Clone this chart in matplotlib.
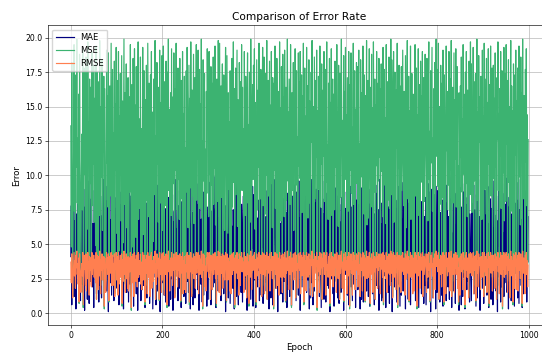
import numpy as np
import matplotlib
matplotlib.use('Agg')
import matplotlib.pyplot as plt

# error values per epoch
mae = [
    4.1,7.8,0.6,9.3,2.5,5.9,8.4,1.2,6.7,3.3,9.8,0.3,5.1,7.2,2.9,8.8,4.6,1.7,6.2,9.5,3.8,0.9,7.5,5.4,2.1,
    8.1,6.4,1.5,9.0,3.6,0.2,7.7,4.9,2.7,8.6,5.7,1.0,9.6,6.9,3.1,0.7,8.3,4.4,2.3,7.0,9.9,5.2,1.9,6.5,3.9,
    0.4,8.9,5.6,2.8,7.4,9.1,1.4,4.2,6.0,3.4,8.0,0.8,5.8,9.4,2.0,7.1,4.7,1.1,6.6,8.5,3.0,9.7,5.0,0.5,7.9,
    2.6,6.3,9.2,1.6,4.8,8.2,3.5,0.1,7.3,5.5,9.0,2.2,6.8,4.0,1.3,8.7,5.3,3.7,9.5,0.9,6.1,2.4,7.6,4.5,8.4,
    5.9,1.8,7.0,3.2,9.6,0.6,6.4,8.8,2.9,4.3,7.9,1.0,5.6,9.3,3.8,0.3,8.1,6.0,2.5,7.4,4.9,9.8,1.5,6.9,3.4,
    7.7,0.8,4.6,9.1,2.1,5.2,8.5,1.2,6.3,3.0,9.9,4.1,0.5,7.2,5.8,2.7,8.9,3.6,1.4,6.7,9.4,0.2,5.0,7.8,2.3,
    9.2,3.9,6.1,0.9,8.3,4.7,1.7,7.1,5.4,2.0,9.7,6.6,0.4,3.3,8.0,5.9,1.1,7.5,4.2,9.0,2.8,6.8,0.7,8.6,3.5,
    1.9,6.5,8.7,4.4,0.3,7.3,2.6,9.5,5.1,3.1,7.9,0.6,6.2,9.3,1.6,4.8,8.2,2.4,5.7,7.0,0.1,9.6,3.7,6.0,4.5,
    8.8,2.2,5.5,9.9,1.3,6.9,3.8,0.8,7.6,4.0,9.1,2.9,5.3,8.4,0.5,6.4,3.2,9.4,1.0,7.2,5.0,2.5,8.6,0.2,6.6,
    3.4,7.4,1.4,5.8,9.7,2.7,6.1,4.3,8.9,0.9,3.6,7.8,5.2,1.8,9.2,4.6,0.4,6.7,8.1,2.0,5.9,9.0,1.2,7.0,3.9,
    6.3,0.7,9.6,4.9,2.3,8.0,5.6,1.5,7.5,3.0,9.8,0.3,6.5,4.1,8.5,2.6,7.3,0.6,5.4,9.3,3.3,1.1,8.7,6.0,2.8,
    9.4,4.4,1.7,7.9,5.1,0.2,8.2,3.5,6.8,2.1,9.0,5.7,0.8,7.1,4.7,1.3,8.8,3.1,6.2,9.7,2.4,5.5,0.5,7.7,4.0,
    1.0,8.3,6.6,2.9,9.5,4.2,0.6,7.4,5.0,3.7,8.6,1.9,6.4,9.9,2.2,4.8,7.6,0.4,5.9,8.1,3.4,9.2,1.6,6.9,2.5,
    7.2,3.8,9.1,0.9,5.3,8.4,2.0,6.1,4.5,1.4,9.6,3.2,7.8,0.1,6.7,4.3,8.9,2.7,5.6,1.1,9.3,7.0,3.6,0.7,8.0,
    4.6,9.8,2.3,6.3,1.8,7.5,5.2,0.3,8.7,3.9,6.0,9.4,1.2,4.9,7.3,2.8,0.6,8.3,5.8,3.0,9.0,6.5,1.5,7.9,4.1,
    0.8,6.8,8.5,3.3,9.7,1.7,5.5,7.7,2.6,4.4,0.2,8.1,6.2,9.5,2.1,5.0,7.1,3.7,1.0,8.8,4.7,6.6,9.2,0.5,3.5,
    8.6,2.4,5.7,9.3,0.4,7.4,4.0,1.9,6.9,3.1,8.2,5.4,0.9,9.9,2.9,6.4,1.3,7.6,4.8,9.1,0.7,5.1,8.4,2.2,6.1,
    3.0,7.0,1.6,4.5,8.9,6.3,2.7,9.6,0.3,5.9,3.8,7.8,1.1,6.0,9.4,4.2,0.6,8.0,2.5,5.3,7.2,9.7,3.4,1.8,6.7,
    9.0,5.6,0.1,7.5,3.6,8.6,2.0,4.9,6.5,1.4,9.8,3.3,5.8,0.8,8.3,6.8,2.3,4.4,9.5,1.0,7.3,5.0,0.4,8.7,3.9,
    2.1,8.1,6.4,1.2,9.2,4.6,7.9,0.5,5.5,3.2,8.5,1.7,6.6,9.3,2.6,4.1,7.7,0.9,5.2,8.8,3.7,6.2,1.3,9.6,4.3,
    6.9,0.2,3.5,8.4,5.1,1.9,9.9,7.1,2.8,4.7,0.7,8.2,6.0,3.0,9.1,1.5,5.7,7.4,2.4,9.4,4.0,0.3,6.3,8.6,1.1,
    5.4,9.7,2.2,6.7,0.6,7.8,4.5,1.6,8.0,3.6,5.9,9.0,0.9,4.8,7.0,2.7,8.9,6.1,1.2,3.3,9.5,5.3,0.4,7.6,2.9,
    8.3,4.2,7.2,1.0,9.6,3.1,6.5,0.8,5.0,8.7,2.0,6.8,9.3,1.8,4.4,7.5,0.1,5.6,3.8,9.8,2.5,6.4,8.1,1.4,4.9,
    0.5,6.0,9.1,3.4,7.3,2.3,5.2,8.5,1.1,4.6,9.7,0.7,7.9,3.9,6.6,1.5,8.4,5.5,2.6,9.0,4.3,0.2,6.9,8.8,3.0,
    7.6,2.8,4.0,9.4,1.3,5.8,8.0,0.6,6.3,3.5,9.2,5.1,1.9,7.7,4.5,0.9,8.6,2.1,6.1,9.9,3.2,7.1,0.4,5.4,8.2,
    3.6,9.5,1.7,6.4,8.3,2.5,4.7,0.3,7.4,5.9,1.0,9.1,3.7,6.8,0.8,8.9,4.1,2.2,7.8,5.0,9.6,1.6,6.2,3.1,8.5,
    1.2,5.3,7.9,0.5,9.0,4.4,6.7,2.9,8.1,1.4,5.6,9.8,3.3,0.6,7.2,4.8,9.3,2.0,6.0,8.7,1.8,4.2,7.5,0.2,5.7,
    9.7,3.8,6.5,2.4,0.9,8.0,5.2,1.1,7.0,4.0,9.4,2.7,6.9,0.4,8.4,3.4,5.9,9.1,1.5,7.7,4.6,0.7,8.8,6.1,2.3,
    4.9,8.6,0.1,5.5,7.3,3.0,9.9,1.9,6.6,2.6,8.2,4.3,0.8,7.6,5.1,9.2,2.1,6.3,3.6,0.5,8.9,5.8,1.3,9.5,3.9,
    6.8,1.6,9.0,4.5,2.0,7.1,0.3,8.5,5.4,3.2,9.7,6.2,1.0,4.7,8.0,2.8,7.4,0.6,5.0,9.3,3.5,6.0,1.7,8.3,4.1,
    2.7,7.9,5.3,0.9,9.6,3.7,6.4,1.2,8.7,4.4,0.4,7.2,5.7,9.1,2.3,6.9,1.4,8.1,3.1,5.6,9.8,0.7,7.0,4.8,2.0,
    8.4,0.6,3.9,7.5,5.0,1.8,9.4,6.1,2.5,8.8,4.2,0.1,6.7,3.4,9.0,5.2,1.1,7.8,4.6,2.9,8.6,6.5,0.3,9.2,5.5,
    1.5,6.3,8.9,2.2,4.9,9.5,0.8,7.3,3.8,5.9,1.3,8.2,6.0,0.5,9.7,3.6,7.1,2.4,5.4,8.0,0.9,4.3,9.3,6.6,1.9,
    7.0,4.7,1.0,9.9,6.2,2.7,8.3,0.4,5.8,3.3,7.6,9.0,1.6,4.1,8.7,0.7,6.4,3.0,9.6,5.1,2.1,7.4,4.5,0.2,8.5,
    5.6,9.1,3.5,0.6,7.7,4.0,1.2,8.8,6.9,2.6,9.4,0.3,5.3,7.9,3.9,1.7,8.4,6.1,2.3,9.8,4.6,0.8,7.2,5.0,3.2,
    0.9,8.0,6.6,2.9,5.2,9.3,1.4,4.8,7.5,3.7,0.5,8.6,6.3,1.1,9.0,4.4,2.5,7.0,5.7,0.2,9.7,3.4,6.8,8.2,1.8,
    4.3,7.3,0.7,9.5,3.1,6.0,8.9,2.0,5.5,1.3,7.8,9.2,4.0,0.4,6.5,2.8,8.3,5.9,1.0,7.6,3.6,9.9,0.6,6.2,4.7,
    9.6,2.3,5.1,7.1,1.6,8.5,3.8,0.1,6.7,4.9,9.0,2.6,7.4,5.4,0.8,8.1,1.9,6.0,9.4,3.3,5.8,1.2,8.7,2.2,7.9,
    3.0,6.4,9.8,1.5,4.2,7.7,0.3,8.4,5.0,2.4,9.3,6.9,0.9,3.5,7.2,5.3,1.7,9.1,4.5,0.5,8.0,6.6,2.9,5.6,9.5,
    6.1,1.1,8.2,4.6,0.7,7.5,3.2,9.7,5.9,2.0,6.8,0.4,8.6,3.9,1.4,9.0,5.5,7.3,2.7,4.1,8.9,0.8,6.3,3.7,7.0,
]

mse = [
    13.6,4.8,18.2,9.1,1.2,6.3,11.9,19.5,7.4,14.8,3.2,17.3,10.6,19.9,8.0,12.7,4.4,15.9,0.7,18.8,11.2,6.9,2.3,9.7,13.0,
    7.5,19.2,0.4,5.6,17.8,10.1,14.5,4.2,18.6,2.6,15.3,6.1,19.7,11.5,13.9,1.7,17.0,9.4,16.4,4.6,3.6,19.0,7.8,14.2,10.8,
    18.0,6.6,15.6,11.0,4.9,19.4,1.0,13.3,17.5,5.4,2.9,16.8,7.1,19.8,12.9,2.0,15.0,9.9,18.4,6.0,14.0,11.7,17.2,0.3,16.3,
    9.0,2.3,4.7,19.1,10.9,15.8,7.7,18.9,0.8,5.3,16.5,8.5,14.7,19.6,3.9,11.4,17.7,4.1,13.1,9.6,18.3,1.4,15.2,10.4,19.3,
    5.8,16.9,12.6,1.7,19.0,4.5,14.3,10.0,17.4,6.7,13.5,18.7,0.5,15.4,5.1,11.8,19.9,7.9,16.0,2.1,12.8,18.1,6.2,14.9,3.2,
    17.1,2.6,4.0,15.7,8.8,19.5,12.0,0.2,16.6,11.1,4.8,18.5,13.7,1.4,19.2,9.5,15.1,5.5,17.9,12.3,3.6,14.4,19.7,6.8,11.6,
    14.1,7.6,18.6,4.4,13.4,2.9,9.2,19.3,5.7,12.5,17.6,10.7,0.6,15.5,8.2,18.0,11.3,2.0,19.6,13.2,7.0,16.7,9.9,1.4,17.3,
    10.2,19.0,3.2,14.6,11.8,5.2,17.0,8.6,15.9,19.8,1.0,12.9,4.6,18.2,10.8,14.0,6.6,16.4,0.9,19.1,12.4,8.0,15.3,2.3,18.7,
    6.0,15.1,19.4,9.0,1.7,16.8,11.5,7.8,18.3,13.6,0.4,17.5,10.0,19.9,8.9,14.8,2.6,12.2,16.0,7.1,19.2,11.0,3.9,15.7,9.4,
    18.9,12.6,1.2,16.3,10.4,19.6,7.5,13.0,3.6,17.8,9.7,15.0,6.8,18.5,11.4,0.8,16.9,13.9,8.3,19.0,2.0,14.5,10.9,17.2,2.9,
    12.0,2.3,17.6,8.8,19.3,14.2,6.2,11.7,18.0,0.6,15.6,9.1,19.7,12.7,1.4,16.2,8.5,13.3,18.8,6.5,10.3,17.1,3.2,14.9,19.5,
    8.2,16.6,11.2,19.1,2.0,13.8,17.7,7.6,15.2,10.6,19.9,6.9,12.5,0.3,18.4,9.6,14.1,17.4,3.6,11.9,2.6,16.1,8.7,19.2,13.5,
    15.8,7.0,19.0,10.1,13.1,1.0,17.9,9.3,16.7,2.9,12.3,18.6,7.9,15.4,10.5,19.4,6.4,14.6,0.5,17.0,11.6,8.1,19.8,12.8,2.3,
    19.6,11.1,1.7,16.5,8.4,14.0,18.1,3.2,13.2,17.3,9.8,6.0,15.9,19.3,10.7,0.8,18.7,12.1,5.8,16.0,9.0,13.9,2.6,17.6,11.3,
    2.0,14.7,18.5,7.7,12.4,19.7,9.5,16.3,0.4,11.0,17.8,8.6,14.3,19.1,6.3,15.5,10.2,1.7,18.2,13.6,3.9,16.8,11.8,19.5,8.9,
    16.4,9.2,13.4,2.3,19.0,10.8,7.1,17.2,12.6,1.2,15.0,18.9,8.0,13.7,0.5,17.5,11.4,6.6,19.9,14.4,2.9,12.2,16.6,9.7,18.0,
    11.9,19.2,6.1,15.3,9.9,0.6,18.4,13.0,7.5,16.2,10.6,19.6,3.6,14.8,8.3,17.7,12.0,1.4,15.6,19.3,7.8,11.2,18.6,2.0,13.3,
    7.2,17.4,10.0,19.8,1.0,14.2,16.9,8.5,12.9,18.3,2.6,15.1,9.4,19.0,11.5,6.2,17.1,13.8,0.3,16.7,10.4,19.4,7.6,14.5,3.2,
    18.5,13.1,3.9,16.1,11.7,1.7,19.7,9.1,14.9,6.7,17.9,12.3,2.3,18.8,10.9,15.7,7.0,19.1,13.4,0.8,16.4,8.2,12.7,19.9,9.6,
    14.6,2.9,17.0,12.5,7.9,19.5,10.2,0.4,16.0,13.5,8.9,18.2,6.0,15.2,11.1,19.2,1.2,14.0,17.6,9.3,12.8,3.2,18.9,10.7,16.8,
    9.8,19.0,2.0,13.2,17.3,7.3,15.8,11.6,19.6,0.6,12.0,17.8,8.6,14.3,2.6,19.3,10.1,16.5,6.9,13.7,18.4,8.0,15.4,1.8,11.0,
    17.5,12.4,19.8,1.4,10.5,15.0,3.6,18.6,13.0,8.3,16.9,11.3,19.1,0.2,14.7,9.0,17.2,12.6,2.3,19.4,7.7,15.6,10.8,18.1,1.0,
    2.9,16.2,11.4,19.0,8.1,13.6,17.7,1.7,14.1,19.7,9.5,12.2,6.8,16.7,10.3,18.5,0.5,15.3,11.9,19.2,7.1,13.4,17.0,3.6,15.9,
    12.9,7.5,18.3,10.6,16.3,2.3,19.5,9.2,14.6,6.3,18.0,12.1,1.0,17.4,8.4,15.7,19.9,11.7,3.2,14.0,10.0,18.7,0.8,16.1,13.1,
    19.3,9.7,14.4,2.0,17.1,11.8,7.4,19.0,12.7,0.3,16.6,10.4,18.9,8.7,13.5,1.7,15.2,19.6,7.9,11.2,17.6,2.9,14.8,9.4,18.2,
    10.9,17.9,3.6,15.5,19.1,8.0,12.3,1.4,18.4,14.3,9.9,16.0,2.6,19.4,11.5,7.2,17.3,13.0,0.8,15.8,10.1,19.8,6.4,12.6,16.9,
    6.9,13.9,19.2,9.1,0.5,16.4,11.0,18.8,7.7,14.9,2.3,19.7,12.4,8.8,17.0,1.0,15.1,10.7,19.0,13.3,3.2,16.7,9.6,18.5,11.3,
    16.3,2.0,12.8,18.1,10.3,15.4,7.0,19.3,0.6,13.7,17.7,9.3,14.2,6.5,19.5,11.9,2.3,16.8,8.2,12.5,18.6,7.6,15.0,3.9,19.9,
    8.6,18.4,15.7,1.2,11.4,19.0,6.6,14.5,17.5,9.0,2.9,16.2,12.0,19.6,0.4,13.8,10.5,18.0,3.6,16.5,11.1,2.3,17.9,8.9,14.1,
    19.1,10.8,7.8,16.1,13.4,1.7,18.7,12.2,6.2,15.6,19.8,8.3,11.7,17.2,0.8,14.7,9.8,19.4,6.8,13.1,17.4,10.2,2.0,15.9,12.9,
    2.6,15.3,19.5,8.5,12.6,17.8,0.3,14.4,10.6,19.2,7.1,16.6,13.6,3.2,18.3,9.5,15.8,11.6,19.0,1.4,14.6,17.1,8.1,12.1,18.8,
    14.0,8.7,2.3,18.5,11.0,6.7,16.9,19.7,9.7,13.2,0.8,17.6,10.9,15.4,19.3,7.4,12.7,1.2,16.3,10.0,18.2,2.9,14.9,19.9,11.4,
    17.7,12.0,9.2,19.6,1.0,15.0,11.5,7.9,18.0,13.9,3.6,16.7,8.4,19.1,12.3,0.6,17.3,14.2,9.9,2.0,19.4,11.8,16.1,7.5,13.6,
    9.3,19.0,14.7,2.6,17.0,10.4,19.8,1.4,13.0,16.4,8.0,12.9,18.9,2.3,15.5,11.2,19.2,7.7,14.8,17.9,3.2,10.7,0.6,16.0,12.5,
    1.7,16.5,11.3,18.6,8.8,14.1,2.9,19.5,10.1,15.9,12.8,0.4,17.5,9.4,19.0,13.8,7.0,16.2,11.6,1.2,18.3,14.5,8.6,19.7,10.3,
    18.1,7.3,15.2,12.2,19.3,2.0,16.8,9.6,13.5,17.4,0.8,11.0,19.9,8.2,14.6,3.6,18.7,12.4,15.7,9.1,2.9,17.2,13.2,6.8,19.1,
    11.8,14.3,1.4,19.6,9.0,17.0,12.5,7.2,18.5,2.3,15.3,10.8,19.2,13.1,0.5,16.6,11.1,19.4,8.5,14.0,17.8,2.6,12.0,18.0,9.8,
    15.6,3.2,18.9,10.6,13.7,1.0,17.1,12.6,19.7,8.9,14.5,2.0,16.3,11.4,19.0,7.6,13.3,17.6,0.3,15.1,10.2,19.3,6.7,14.2,17.4,
    8.1,19.5,12.3,16.9,2.3,11.9,18.4,9.5,15.0,1.2,13.9,19.8,7.4,16.5,10.5,14.7,0.6,18.1,12.7,3.1,17.3,11.5,19.1,2.9,15.4,
    13.0,17.8,2.6,11.7,19.4,9.9,14.9,6.4,18.6,12.1,16.0,0.5,19.9,10.9,8.3,15.8,13.4,2.0,17.7,11.0,19.2,7.8,14.4,3.6,12.6,
]

rmse = [
    3.7,2.2,4.3,3.0,1.1,2.5,3.4,4.4,2.7,3.8,1.8,4.2,3.3,4.5,2.8,3.6,2.1,4.0,0.8,4.3,3.3,2.6,1.5,3.1,3.6,
    2.7,4.4,0.6,2.4,4.2,3.2,3.8,2.0,4.3,1.6,3.9,2.5,4.4,3.4,3.7,1.3,4.1,3.1,4.0,2.1,1.9,4.4,2.8,3.8,3.3,
    4.2,2.6,3.9,3.3,2.2,4.4,1.0,3.6,4.2,2.3,1.7,4.1,2.7,4.5,3.6,1.4,3.9,3.1,4.3,2.4,3.7,3.4,4.1,0.5,4.0,
    3.0,1.5,2.2,4.4,3.3,4.0,2.8,4.3,0.9,2.3,4.1,2.9,3.8,4.4,2.0,3.4,4.2,2.0,3.6,3.1,4.3,1.2,3.9,3.2,4.4,
    2.4,4.1,3.5,1.3,4.4,2.1,3.8,3.2,4.2,2.6,3.7,4.3,0.7,3.9,2.3,3.4,4.5,2.8,4.0,1.5,3.6,4.3,2.5,3.9,1.8,
    4.1,1.6,2.0,4.0,3.0,4.4,3.5,0.4,4.1,3.3,2.2,4.3,3.7,1.2,4.4,3.1,3.9,2.3,4.2,3.5,1.9,3.8,4.4,2.6,3.4,
    3.8,2.8,4.3,2.1,3.7,1.7,3.0,4.4,2.4,3.5,4.2,3.3,0.8,3.9,2.9,4.2,3.4,1.4,4.4,3.6,2.6,4.1,3.1,1.2,4.2,
    3.2,4.4,1.8,3.8,3.4,2.3,4.1,2.9,4.0,4.5,1.0,3.6,2.1,4.3,3.3,3.7,2.6,4.0,1.0,4.4,3.5,2.8,3.9,1.5,4.3,
    2.4,3.9,4.4,3.0,1.3,4.1,3.4,2.8,4.3,3.7,0.6,4.2,3.2,4.5,3.0,3.8,1.6,3.5,4.0,2.7,4.4,3.3,2.0,4.0,3.1,
    4.3,3.5,1.1,4.0,3.2,4.4,2.7,3.6,1.9,4.2,3.1,3.9,2.6,4.3,3.4,0.9,4.1,3.7,2.9,4.4,1.4,3.8,3.3,4.1,1.7,
    3.5,1.5,4.2,3.0,4.4,3.8,2.5,3.4,4.2,0.8,3.9,3.0,4.4,3.6,1.2,4.0,2.9,3.6,4.3,2.5,3.2,4.1,1.8,3.9,4.4,
    2.9,4.1,3.3,4.4,1.4,3.7,4.2,2.8,3.9,3.3,4.5,2.6,3.5,0.5,4.3,3.1,3.8,4.2,1.9,3.4,1.6,4.0,3.0,4.4,3.7,
    4.0,2.6,4.4,3.2,3.6,1.0,4.2,3.1,4.1,1.7,3.5,4.3,2.8,3.9,3.2,4.4,2.5,3.8,0.7,4.1,3.4,2.8,4.5,3.6,1.5,
    4.4,3.3,1.3,4.1,2.9,3.7,4.3,1.8,3.6,4.2,3.1,2.4,4.0,4.4,3.3,0.9,4.3,3.5,2.4,4.0,3.0,3.7,1.6,4.2,3.4,
    1.4,3.8,4.3,2.8,3.5,4.4,3.1,4.0,0.6,3.3,4.2,2.9,3.8,4.4,2.5,3.9,3.2,1.3,4.3,3.7,2.0,4.1,3.4,4.4,3.0,
    4.0,3.0,3.7,1.5,4.4,3.3,2.7,4.1,3.5,1.1,3.9,4.3,2.8,3.7,0.7,4.2,3.4,2.6,4.5,3.8,1.7,3.5,4.1,3.1,4.2,
    3.4,4.4,2.5,3.9,3.1,0.8,4.3,3.6,2.7,4.0,3.3,4.4,1.9,3.8,2.9,4.2,3.5,1.2,3.9,4.4,2.8,3.3,4.3,1.4,3.6,
    2.7,4.2,3.2,4.4,1.0,3.8,4.1,2.9,3.6,4.3,1.6,3.9,3.1,4.4,3.4,2.5,4.1,3.7,0.5,4.1,3.2,4.4,2.8,3.8,1.8,
    4.3,3.6,2.0,4.0,3.4,1.3,4.4,3.0,3.9,2.6,4.2,3.5,1.5,4.3,3.3,4.0,2.6,4.4,3.7,0.9,4.0,2.9,3.6,4.5,3.1,
    3.8,1.7,4.1,3.5,2.8,4.4,3.2,0.6,4.0,3.7,3.0,4.3,2.4,3.9,3.3,4.4,1.1,3.7,4.2,3.1,3.6,1.8,4.3,3.3,4.1,
    3.1,4.4,1.4,3.6,4.2,2.7,4.0,3.4,4.4,0.8,3.5,4.2,2.9,3.8,1.6,4.4,3.2,4.1,2.6,3.7,4.3,2.8,3.9,1.3,3.3,
    4.2,3.5,4.5,1.2,3.2,3.9,1.9,4.3,3.6,2.9,4.1,3.4,4.4,0.4,3.8,3.0,4.1,3.5,1.5,4.4,2.8,4.0,3.3,4.3,1.0,
    1.7,4.0,3.4,4.4,2.8,3.7,4.2,1.3,3.8,4.4,3.1,3.5,2.6,4.1,3.2,4.3,0.7,3.9,3.4,4.4,2.7,3.7,4.1,1.9,4.0,
    3.6,2.7,4.3,3.3,4.0,1.5,4.4,3.0,3.8,2.5,4.2,3.5,1.0,4.2,2.9,4.0,4.5,3.4,1.8,3.7,3.2,4.3,0.9,4.0,3.6,
    4.4,3.1,3.8,1.4,4.1,3.4,2.7,4.4,3.6,0.5,4.1,3.2,4.3,2.9,3.7,1.3,3.9,4.4,2.8,3.3,4.2,1.7,3.8,3.1,4.3,
    3.3,4.2,1.9,3.9,4.4,2.8,3.5,1.2,4.3,3.8,3.1,4.0,1.6,4.4,3.4,2.7,4.2,3.6,0.9,4.0,3.2,4.5,2.5,3.5,4.1,
    2.6,3.7,4.4,3.0,0.7,4.0,3.3,4.3,2.8,3.9,1.5,4.4,3.5,3.0,4.1,1.0,3.9,3.3,4.4,3.6,1.8,4.1,3.1,4.3,3.4,
    4.0,1.4,3.6,4.3,3.2,3.9,2.6,4.4,0.8,3.7,4.2,3.0,3.8,2.5,4.4,3.4,1.5,4.1,2.9,3.5,4.3,2.8,3.9,2.0,4.5,
    2.9,4.3,4.0,1.1,3.4,4.4,2.6,3.8,4.2,3.0,1.7,4.0,3.5,4.4,0.6,3.7,3.2,4.2,1.9,4.1,3.3,1.5,4.2,3.0,3.8,
    4.4,3.3,2.8,4.0,3.7,1.3,4.3,3.5,2.5,3.9,4.5,2.9,3.4,4.1,0.9,3.8,3.1,4.4,2.6,3.6,4.2,3.2,1.4,4.0,3.6,
    1.6,3.9,4.4,2.9,3.5,4.2,0.5,3.8,3.3,4.4,2.7,4.1,3.7,1.8,4.3,3.1,4.0,3.4,4.4,1.2,3.8,4.1,2.8,3.5,4.3,
    3.7,3.0,1.5,4.3,3.3,2.6,4.1,4.4,3.1,3.6,0.9,4.2,3.3,3.9,4.4,2.7,3.6,1.1,4.0,3.2,4.3,1.7,3.9,4.5,3.4,
    4.2,3.5,3.0,4.4,1.0,3.9,3.4,2.8,4.2,3.7,1.9,4.1,2.9,4.4,3.5,0.8,4.2,3.8,3.1,1.4,4.4,3.4,4.0,2.7,3.7,
    3.0,4.4,3.8,1.6,4.1,3.2,4.5,1.2,3.6,4.0,2.8,3.6,4.3,1.5,3.9,3.3,4.4,2.8,3.8,4.2,1.8,3.3,0.8,4.0,3.5,
    1.3,4.1,3.4,4.3,3.0,3.8,1.7,4.4,3.2,4.0,3.6,0.6,4.2,3.1,4.4,3.7,2.6,4.0,3.4,1.1,4.3,3.8,2.9,4.4,3.2,
    4.3,2.7,3.9,3.5,4.4,1.4,4.1,3.1,3.7,4.2,0.9,3.3,4.5,2.9,3.8,1.9,4.3,3.5,4.0,3.0,1.7,4.1,3.6,2.6,4.4,
    3.4,3.8,1.2,4.4,3.0,4.1,3.5,2.7,4.3,1.5,3.9,3.3,4.4,3.6,0.7,4.1,3.3,4.4,2.9,3.7,4.2,1.6,3.5,4.2,3.1,
    3.9,1.8,4.3,3.3,3.7,1.0,4.1,3.5,4.4,3.0,3.8,1.4,4.0,3.4,4.4,2.8,3.6,4.2,0.5,3.9,3.2,4.4,2.6,3.8,4.2,
    2.8,4.4,3.5,4.1,1.5,3.4,4.3,3.1,3.9,1.1,3.7,4.5,2.7,4.1,3.2,3.8,0.8,4.3,3.6,1.8,4.2,3.4,4.4,1.7,3.9,
    3.6,4.2,1.6,3.4,4.4,3.1,3.9,2.5,4.3,3.5,4.0,0.7,4.5,3.3,2.9,4.0,3.7,1.4,4.2,3.3,4.4,2.8,3.8,1.9,3.5,
]

plt.rcParams['font.size'] = 5.6
plt.rcParams['axes.linewidth'] = 0.45
plt.rcParams['xtick.major.width'] = 0.45
plt.rcParams['ytick.major.width'] = 0.45
plt.rcParams['xtick.major.size'] = 2
plt.rcParams['ytick.major.size'] = 2
plt.rcParams['xtick.major.pad'] = 2
plt.rcParams['ytick.major.pad'] = 2

fig = plt.figure(figsize=(5.42, 3.54), dpi=100)
# axes runs past the right edge, the reference is cropped there
ax = fig.add_axes([48 / 542, 28.7 / 354, 503 / 542, 299.8 / 354])

ax.plot(mae, color='navy', lw=0.85, label='MAE')
ax.plot(mse, color='mediumseagreen', lw=0.85, label='MSE')
ax.plot(rmse, color='coral', lw=0.85, label='RMSE')

ax.set_title('Comparison of Error Rate', fontsize=7.6, pad=4)
ax.set_xlabel('Epoch', fontsize=6.2, labelpad=2)
ax.set_ylabel('Error', fontsize=6.2, labelpad=3)
ax.grid(True, lw=0.45, color='#b0b0b0')
ax.legend(loc='upper left', fontsize=6, handlelength=2.2, borderpad=0.4,
          labelspacing=0.45, framealpha=0.8)

fig.savefig('out.png', dpi=100)
